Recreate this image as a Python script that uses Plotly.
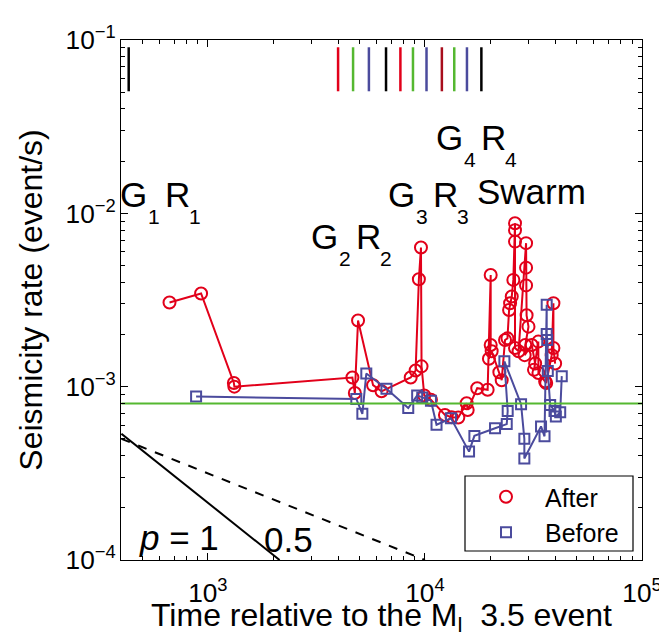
import plotly.graph_objects as go

# ---------------- data ----------------
after_t = [666, 931, 1318, 1325, 4634, 4755, 4920, 5770, 6310, 8600, 9060, 9380, 9590, 9650,
           9930, 10660, 12370, 13270, 14250, 15570, 15740, 17420, 19450, 20090, 20090, 19720,
           20300, 22020, 22580, 23390, 24000, 24420, 24680, 25120, 25550, 26000, 26000, 26000,
           26000, 27000, 29240, 29240, 29240, 29400, 30000, 29000, 28800, 31050, 32200, 31800,
           33300, 33340, 35800, 36200, 38370, 39080, 39080, 39800]
after_r = [3.06e-3, 3.45e-3, 1.05e-3, 1.0e-3, 1.13e-3, 9.2e-4, 2.41e-3, 1.02e-3, 9.4e-4, 1.13e-3,
           1.24e-3, 4.17e-3, 6.35e-3, 1.31e-3, 8.9e-4, 8.4e-4, 6.87e-4, 6.67e-4, 6.64e-4, 8.03e-4,
           7.34e-4, 9.8e-4, 9.6e-4, 4.41e-3, 1.74e-3, 1.45e-3, 1.6e-3, 1.21e-3, 1.09e-3, 1.86e-3,
           1.9e-3, 2.77e-3, 3.03e-3, 3.31e-3, 4.13e-3, 8.77e-3, 8.0e-3, 6.87e-3, 1.67e-3, 1.6e-3,
           6.73e-3, 4.86e-3, 3.84e-3, 2.58e-3, 2.22e-3, 1.74e-3, 1.52e-3, 1.74e-3, 1.36e-3, 1.25e-3,
           1.82e-3, 1.2e-3, 1.07e-3, 1.05e-3, 1.52e-3, 3.03e-3, 1.67e-3, 1.36e-3]

before_t = [883, 4830, 5150, 5370, 6650, 8380, 9210, 9720, 10660, 11310, 13180, 15970, 16900,
            21040, 23820, 24060, 23230, 27730, 28710, 28710, 34270, 35560, 36390, 36390, 36600,
            36820, 37760, 39540, 40100, 42000, 42700]
before_r = [8.77e-4, 8.5e-4, 6.97e-4, 1.19e-3, 9.73e-4, 7.52e-4, 8.9e-4, 8.67e-4, 8.3e-4, 6.03e-4,
            6.57e-4, 4.22e-4, 5.2e-4, 5.76e-4, 6.08e-4, 7.24e-4, 1.4e-3, 7.93e-4, 5.0e-4, 3.85e-4,
            5.9e-4, 5.17e-4, 2.97e-3, 2.01e-3, 1.86e-3, 1.23e-3, 7.85e-4, 7.24e-4, 6.72e-4, 7.13e-4,
            1.15e-3]

background_rate = 8.0e-4
x_span = [400, 1e5]

p1_t = [400, 2140]
p1_r = [5.35e-4, 1.0e-4]
p05_t = [400, 1e4]
p05_r = [5.0e-4, 1.0e-4]

mark_t = [432, 3981, 4667, 5520, 6620, 7710, 8810, 10170, 11970, 13650, 15620, 18200]
mark_kind = ["k", "r", "g", "b", "k", "r", "g", "b", "d", "g", "b", "k"]
mark_r = [0.0506, 0.0908]

x_title = "Time relative to the M<sub>l</sub>\u00a0 3.5 event"
y_title = "Seismicity rate (event/s)"

# ---------------- styles ----------------
RED = "#e2001a"
BLUE = "#4b4b9d"
GREEN = "#55b830"
KIND_COLOR = {"k": "#000000", "r": RED, "g": GREEN, "b": BLUE, "d": "#a80d1c"}
FONT = "Liberation Sans, Arial, Helvetica, sans-serif"

W, H = 667, 632
L, R, T, B = 113, 33, 32, 80
PW, PH = W - L - R, H - T - B


def px(x):
    return (x - L) / PW


def py(y):
    return (H - B - y) / PH


circle = dict(symbol="circle-open", size=12, color=RED, line=dict(width=2, color=RED))
square = dict(symbol="square-open", size=10, color=BLUE, line=dict(width=2, color=BLUE))

fig = go.Figure()

fig.add_trace(go.Scatter(x=after_t, y=after_r, mode="lines+markers", name="After",
                         line=dict(color=RED, width=2), marker=circle, showlegend=False))
fig.add_trace(go.Scatter(x=before_t, y=before_r, mode="lines+markers", name="Before",
                         line=dict(color=BLUE, width=2), marker=square, showlegend=False))
fig.add_trace(go.Scatter(x=x_span, y=[background_rate, background_rate], mode="lines",
                         line=dict(color=GREEN, width=2), showlegend=False, hoverinfo="skip"))
fig.add_trace(go.Scatter(x=p1_t, y=p1_r, mode="lines", line=dict(color="black", width=2),
                         showlegend=False, hoverinfo="skip"))
fig.add_trace(go.Scatter(x=p05_t, y=p05_r, mode="lines",
                         line=dict(color="black", width=2, dash="dash"),
                         showlegend=False, hoverinfo="skip"))
for t, k in zip(mark_t, mark_kind):
    fig.add_trace(go.Scatter(x=[t, t], y=mark_r, mode="lines",
                             line=dict(color=KIND_COLOR[k], width=2.5),
                             showlegend=False, hoverinfo="skip"))

# legend entries (markers only, as in the reference)
fig.add_trace(go.Scatter(x=[None], y=[None], mode="markers", name="After", marker=circle))
fig.add_trace(go.Scatter(x=[None], y=[None], mode="markers", name="Before", marker=square))

# ---------------- text labels ----------------
ann = []
BIG, SUB = 35, 21


def txt(s, x, baseline, size=BIG):
    ann.append(dict(text=s, xref="paper", yref="paper", x=px(x), y=py(baseline + 0.212 * size),
                    xanchor="left", yanchor="bottom", showarrow=False, borderpad=0,
                    font=dict(family=FONT, size=size, color="black")))


def group_label(left, baseline, digit):
    txt("G", left, baseline)
    txt(digit, left + 27.5, baseline + 16.5, SUB)
    txt("R", left + 44.5, baseline)
    txt(digit, left + 69, baseline + 16.5, SUB)


group_label(111, 200, "1")
group_label(302, 242, "2")
group_label(379, 200, "3")
group_label(427, 143, "4")
txt("Swarm", 468, 197)
txt("<i>p</i> = 1", 130, 543)
txt("0.5", 255, 545)

# x-axis title (placed as text under the axis, cap top near y=597)
TITLE_SIZE = 32
ann.append(dict(text=x_title, xref="paper", yref="paper", x=0.5, y=py(588),
                xanchor="center", yanchor="top", showarrow=False, borderpad=0,
                font=dict(family=FONT, size=TITLE_SIZE, color="black")))

fig.update_layout(annotations=ann)

# legend box
fig.add_shape(type="rect", xref="paper", yref="paper", x0=px(457), x1=px(625), y0=py(543),
              y1=py(468), line=dict(color="black", width=1.2), fillcolor="white", layer="above")

axis_common = dict(type="log", dtick=1, exponentformat="power", showline=True, linecolor="black",
                   linewidth=1.2, mirror="ticks", ticks="inside", ticklen=7, tickcolor="black",
                   tickwidth=1, showgrid=False, zeroline=False,
                   minor=dict(ticks="inside", ticklen=4, tickcolor="black", showgrid=False),
                   tickfont=dict(family=FONT, size=21, color="black"))

fig.update_xaxes(range=[2.6, 5], **axis_common, ticklabelstandoff=10)
fig.update_yaxes(range=[-4, -1], **axis_common,
                 title=dict(text=y_title,
                            font=dict(family=FONT, size=TITLE_SIZE, color="black"), standoff=13))

fig.update_layout(
    width=W, height=H, margin=dict(l=L, r=R, t=T, b=B, autoexpand=False),
    paper_bgcolor="white", plot_bgcolor="white",
    font=dict(family=FONT, color="black"),
    showlegend=True,
    legend=dict(x=px(459), y=py(466), xanchor="left", yanchor="top", bgcolor="rgba(0,0,0,0)",
                borderwidth=0, font=dict(family=FONT, size=25, color="black"),
                itemwidth=68, tracegroupgap=0),
)

fig.write_html("out.html")
